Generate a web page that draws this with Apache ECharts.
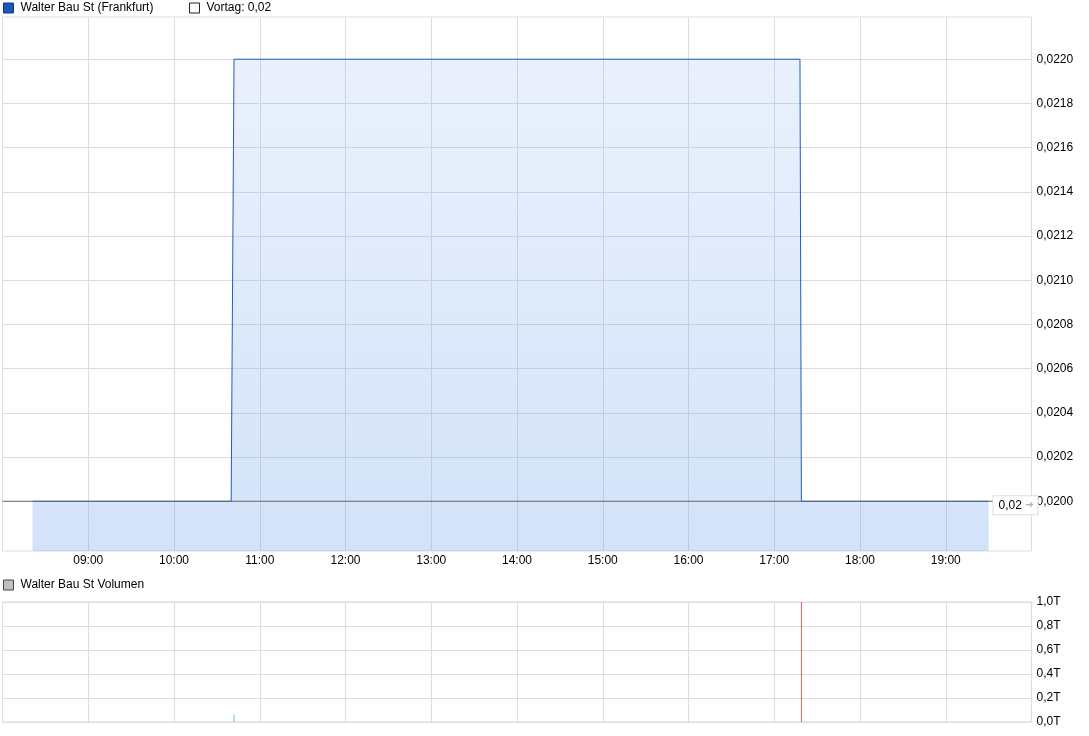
<!DOCTYPE html>
<html>
<head>
<meta charset="utf-8">
<title>Walter Bau St</title>
<script src="https://cdn.jsdelivr.net/npm/echarts@6/dist/echarts.min.js"></script>
<style>
    html, body { margin: 0; padding: 0; background: #fff; }
    #chart { width: 1089px; height: 736px; }
</style>
</head>
<body>
<div id="chart"></div>
<script>
// 数据
const priceName = "Walter Bau St (Frankfurt)";
const volumeName = "Walter Bau St Volumen";
const priceTimes = ["08:21", "10:40", "10:42", "17:18", "17:19", "19:30"]; //成交时间
const priceValues = [0.0200, 0.0200, 0.0220, 0.0220, 0.0200, 0.0200]; //价格
const prevClose = 0.02; //Vortag
const volumeTimes = ["10:42", "17:19"];
const volumeValues = [0.06, 1.0]; //单位 T（Tausend）
const priceTicks = [0.0200, 0.0202, 0.0204, 0.0206, 0.0208, 0.0210, 0.0212, 0.0214, 0.0216, 0.0218, 0.0220]; //右侧刻度
const volumeTicks = [0, 0.2, 0.4, 0.6, 0.8, 1.0];
const dayStart = "08:00";
const dayEnd = "20:00";

(function () {
    const font = "'Liberation Sans', Arial, sans-serif";
    const toMin = function (s) { //"HH:MM" -> 分钟
        const p = s.split(":");
        return +p[0] * 60 + +p[1];
    };
    const toHHMM = function (m) {
        const h = Math.floor(m / 60), mm = m % 60;
        return (h < 10 ? "0" : "") + h + ":" + (mm < 10 ? "0" : "") + mm;
    };
    const comma = function (v, d) { return v.toFixed(d).replace(".", ","); };

    const xMin = toMin(dayStart), xMax = toMin(dayEnd);
    const priceData = priceTimes.map(function (t, i) { return [toMin(t), priceValues[i]]; });
    const vortagData = [[xMin, prevClose], [xMax, prevClose]];
    const vortagName = "Vortag: " + comma(prevClose, 2);
    const volumeData = volumeTimes.map(function (t, i) {
        const idx = priceTimes.indexOf(t);
        const up = idx > 0 && priceValues[idx] >= priceValues[idx - 1]; //涨绿跌红
        return {
            value: [toMin(t), volumeValues[i]],
            itemStyle: { color: up ? "#5cd65c" : "#cc6666" }
        };
    });

    const my_echart = echarts.init(document.querySelector("#chart")); //实例化echarts对象
    const legendBase = {
        icon: "rect",
        itemWidth: 10,
        itemHeight: 10,
        padding: 0,
        selectedMode: false,
        textStyle: { color: "#000", fontSize: 12, fontFamily: font, padding: [0, 0, 0, 2] }
    };
    const gridLine = { lineStyle: { color: "#dddddd", width: 1 } };
    let option = {
        animation: false,
        textStyle: { fontFamily: font },
        legend: [
            Object.assign({}, legendBase, {
                left: 3, top: 2,
                data: [{ name: priceName, itemStyle: { color: "#1c57c0", borderColor: "#10367a", borderWidth: 1 } }]
            }),
            Object.assign({}, legendBase, {
                left: 189, top: 2,
                data: [{ name: vortagName, itemStyle: { color: "#fff", borderColor: "#222", borderWidth: 1 } }]
            }),
            Object.assign({}, legendBase, {
                left: 3, top: 579,
                data: [{ name: volumeName, itemStyle: { color: "#c0c0c0", borderColor: "#444", borderWidth: 1 } }]
            })
        ],
        grid: [
            { left: 2.5, right: 57.5, top: 17, bottom: 185, show: true, borderColor: "#dddddd", borderWidth: 1 },
            { left: 2.5, right: 57.5, top: 602, bottom: 14, show: true, borderColor: "#dddddd", borderWidth: 1 }
        ],
        xAxis: [
            {
                type: "value", gridIndex: 0, min: xMin, max: xMax, interval: 60,
                axisLine: { show: false },
                axisTick: { show: false },
                axisLabel: {
                    color: "#000", fontSize: 12, margin: 4,
                    showMinLabel: false, showMaxLabel: false,
                    formatter: function (v) { return toHHMM(v); }
                },
                splitLine: gridLine
            },
            {
                type: "value", gridIndex: 1, min: xMin, max: xMax, interval: 60,
                axisLine: { show: false },
                axisTick: { show: false },
                axisLabel: { show: false },
                splitLine: gridLine
            }
        ],
        yAxis: [
            {
                type: "value", gridIndex: 0, position: "right",
                min: 0.019775, max: 0.022191,
                axisLine: { show: false },
                axisTick: { show: false, customValues: priceTicks },
                axisLabel: {
                    color: "#000", fontSize: 12, margin: 5,
                    customValues: priceTicks,
                    formatter: function (v) { return comma(v, 4); }
                },
                splitLine: gridLine
            },
            {
                type: "value", gridIndex: 1, position: "right",
                min: 0, max: 1,
                axisLine: { show: false },
                axisTick: { show: false, customValues: volumeTicks },
                axisLabel: {
                    color: "#000", fontSize: 12, margin: 5,
                    customValues: volumeTicks,
                    formatter: function (v) { return comma(v, 1) + "T"; }
                },
                splitLine: gridLine
            }
        ],
        series: [
            {
                name: priceName,
                type: "line",
                xAxisIndex: 0, yAxisIndex: 0,
                data: priceData,
                showSymbol: false,
                color: "#1c57c0",
                lineStyle: { color: "#1f5bc6", width: 1 },
                areaStyle: {
                    origin: "start",
                    opacity: 1,
                    color: new echarts.graphic.LinearGradient(0, 0, 0, 1, [
                        { offset: 0, color: "rgba(120,166,235,0.16)" },
                        { offset: 1, color: "rgba(112,162,235,0.31)" }
                    ])
                },
                z: 2
            },
            {
                name: vortagName,
                type: "line",
                xAxisIndex: 0, yAxisIndex: 0,
                data: vortagData,
                showSymbol: false,
                color: "#666",
                lineStyle: { color: "#6a6a6a", width: 1 },
                z: 3,
                markPoint: {
                    symbol: "rect",
                    symbolSize: 0,
                    data: [{ coord: [xMax, prevClose] }],
                    label: {
                        show: true,
                        position: "inside",
                        offset: [-16, 4],
                        backgroundColor: "#fff",
                        borderColor: "#dddddd",
                        borderWidth: 1,
                        padding: [3, 4, 3, 5],
                        formatter: function () { return "{a|" + comma(prevClose, 2) + "} {b|➜}"; },
                        rich: {
                            a: { color: "#000", fontSize: 12, fontFamily: font },
                            b: { color: "#b4b4b4", fontSize: 10, fontFamily: "DejaVu Sans" }
                        }
                    }
                }
            },
            {
                name: volumeName,
                type: "bar",
                xAxisIndex: 1, yAxisIndex: 1,
                data: volumeData,
                barWidth: 1,
                color: "#c0c0c0"
            }
        ]
    }; //配置项
    my_echart.setOption(option); //指定配置项
    window.addEventListener("resize", function () { //窗口尺寸改变，刷新图表大小
        my_echart.resize();
    });
})();
</script>
</body>
</html>
